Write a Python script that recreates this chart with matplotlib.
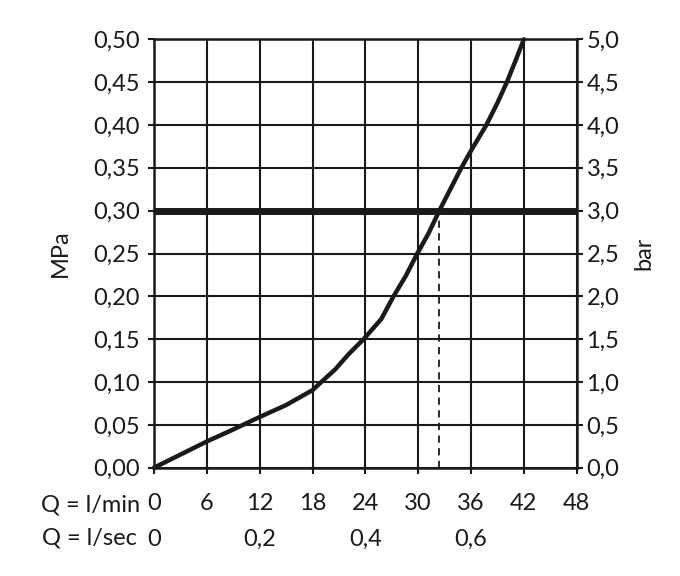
import matplotlib
matplotlib.use("Agg")
import matplotlib.pyplot as plt
from matplotlib.ticker import FuncFormatter, FixedLocator

plt.rcParams['font.family'] = ['Lato', 'DejaVu Sans']

# Data (flow in l/min, pressure in MPa)
flow_lmin = [0, 2.92, 6.0, 8.93, 12.0, 14.96, 18.0, 19.0, 20.6, 22.1, 23.8,
             25.8, 27.2, 28.6, 29.9, 31.2, 32.4, 34.9, 36.0, 37.74, 39.0,
             40.07, 41.07, 42.0]
pressure_mpa = [0, 0.0149, 0.0306, 0.0443, 0.0592, 0.0729, 0.0905, 0.100,
                0.115, 0.1325, 0.150, 0.1734, 0.200, 0.224, 0.250, 0.274,
                0.300, 0.350, 0.370, 0.400, 0.4258, 0.450, 0.4754, 0.500]
ref_pressure = 0.30
ref_flow = 32.4

lmin_ticks = [0, 6, 12, 18, 24, 30, 36, 42, 48]
lsec_ticks = [0, 0.2, 0.4, 0.6]
mpa_ticks = [0, 0.05, 0.10, 0.15, 0.20, 0.25, 0.30, 0.35, 0.40, 0.45, 0.50]
bar_ticks = [0, 0.5, 1.0, 1.5, 2.0, 2.5, 3.0, 3.5, 4.0, 4.5, 5.0]

FS = 17
INK = '#1a1a1a'
fig = plt.figure(figsize=(6.8, 5.76), dpi=100)
ax = fig.add_axes([154/680, 1-467.7/576, (576.7-154)/680, (467.7-39.3)/576])

ax.set_xlim(0, 48)
ax.set_ylim(0, 0.5)
ax.set_xticks(lmin_ticks)
ax.set_yticks(mpa_ticks)
ax.yaxis.set_major_formatter(FuncFormatter(lambda v, p: f"{v:.2f}".replace('.', ',')))
ax.xaxis.set_major_formatter(FuncFormatter(lambda v, p: f"{int(round(v))}"))
ax.grid(True, color=INK, linewidth=1.5)
ax.set_axisbelow(True)
for s in ax.spines.values():
    s.set_linewidth(1.8)
    s.set_color(INK)
ax.tick_params(axis='y', direction='out', length=4, width=1.5, pad=6, labelsize=FS, colors=INK)
ax.tick_params(axis='x', direction='out', length=4, width=1.5, pad=14, labelsize=FS, colors=INK)

ax.axhline(ref_pressure, color=INK, linewidth=5, zorder=3)
ax.plot([ref_flow, ref_flow], [0, ref_pressure], color=INK, linewidth=1.3,
        linestyle=(0, (4, 3)), zorder=3)
ax.plot(flow_lmin, pressure_mpa, color=INK, linewidth=3.2, zorder=4,
        solid_capstyle='round', solid_joinstyle='round', clip_on=False)

ax.set_ylabel('MPa', fontsize=FS, labelpad=16, color=INK)

ax2 = ax.twinx()
ax2.set_ylim(0, 5)
ax2.set_yticks(bar_ticks)
ax2.yaxis.set_major_formatter(FuncFormatter(lambda v, p: f"{v:.1f}".replace('.', ',')))
ax2.tick_params(axis='y', direction='out', length=4, width=1.5, pad=3, labelsize=FS, colors=INK)
for s in ax2.spines.values():
    s.set_visible(False)
ax2.set_ylabel('bar', fontsize=FS, labelpad=10, color=INK)

sec = ax.secondary_xaxis(-0.136, functions=(lambda q: q / 60, lambda s: s * 60))
sec.xaxis.set_major_locator(FixedLocator(lsec_ticks))
sec.xaxis.set_major_formatter(FuncFormatter(lambda v, p: '0' if abs(v) < 1e-9 else f"{v:.1f}".replace('.', ',')))
sec.tick_params(axis='x', length=0, pad=2, labelsize=FS, colors=INK)
sec.spines['bottom'].set_visible(False)

ax.text(-0.034, -0.087, 'Q = l/min', transform=ax.transAxes, ha='right', va='center',
        fontsize=FS, color=INK)
ax.text(-0.040, -0.164, 'Q = l/sec', transform=ax.transAxes, ha='right', va='center',
        fontsize=FS, color=INK)

fig.savefig('out.png', dpi=100, facecolor='white')
